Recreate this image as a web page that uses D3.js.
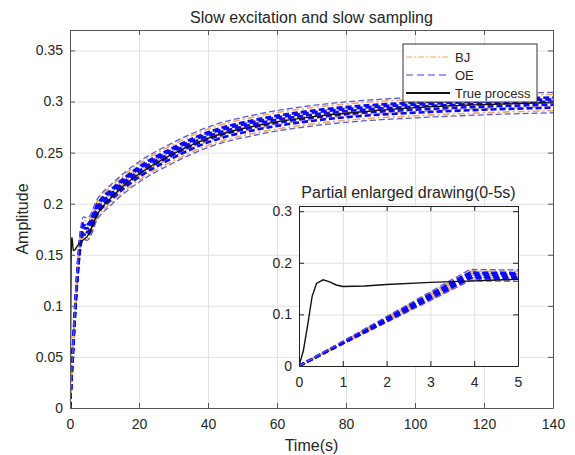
<!DOCTYPE html>
<html>
<head>
<meta charset="utf-8">
<script src="https://cdn.jsdelivr.net/npm/d3@7"></script>
<style>
  body { margin: 0; background: #fff; }
  svg text { font-family: "Liberation Sans", Arial, sans-serif; fill: #262626; }
</style>
</head>
<body>
<div class="chart-container"></div>
<script>
// tick labels
const xTicks = [0, 20, 40, 60, 80, 100, 120, 140];
const yTicks = [0, 0.05, 0.1, 0.15, 0.2, 0.25, 0.3, 0.35];
const insetXTicks = [0, 1, 2, 3, 4, 5];
const insetYTicks = [0, 0.1, 0.2, 0.3];

// sample instants of the identified models
const tSample = [0, 3.9, 5, 8, 12, 16, 20, 30, 40, 55, 70, 85, 100, 120, 140];

// BJ runs
const bj1 = [0, .167, .166, .187, .201, .213, .223, .242, .257, .270, .278, .283, .286, .289, .291];
const bj2 = [0, .171, .171, .191, .205, .217, .227, .246, .261, .274, .282, .287, .290, .293, .295];
const bj3 = [0, .176, .174, .195, .209, .221, .231, .250, .265, .278, .286, .291, .294, .297, .299];
const bj4 = [0, .180, .179, .199, .213, .225, .235, .254, .269, .282, .290, .295, .298, .301, .303];
const bj5 = [0, .184, .183, .203, .217, .229, .239, .258, .273, .286, .294, .299, .302, .305, .307];

// OE runs
const oe1 = [0, .165, .164, .185, .199, .211, .221, .240, .255, .268, .276, .281, .284, .287, .289];
const oe2 = [0, .170, .169, .190, .204, .216, .226, .245, .260, .273, .281, .286, .289, .292, .294];
const oe3 = [0, .173, .172, .193, .207, .219, .229, .248, .263, .276, .284, .289, .292, .295, .297];
const oe4 = [0, .176, .176, .196, .210, .222, .232, .251, .266, .279, .287, .292, .295, .298, .300];
const oe5 = [0, .179, .178, .198, .212, .224, .234, .253, .268, .281, .289, .294, .297, .300, .302];
const oe6 = [0, .181, .180, .200, .214, .226, .236, .255, .270, .283, .291, .296, .299, .302, .304];
const oe7 = [0, .187, .186, .205, .219, .231, .241, .260, .275, .288, .296, .301, .304, .307, .309];

// true process
const tTrue = [0, 0.1, 0.2, 0.25, 0.3, 0.4, 0.55, 0.7, 0.85, 1, 1.5, 2, 3, 4, 5, 8, 12, 16, 20, 30, 40, 55, 70, 85, 100, 120, 140];
const yTrue = [0, 0.03, 0.08, 0.108, 0.135, 0.16, 0.167, 0.163, 0.157, 0.154, 0.155, 0.158, 0.162, 0.165, 0.168, 0.19, 0.206, 0.219, 0.229, 0.249, 0.264, 0.277, 0.285, 0.290, 0.294, 0.297, 0.299];

const bjRuns = [bj1, bj2, bj3, bj4, bj5];
const oeRuns = [oe1, oe2, oe3, oe4, oe5, oe6, oe7];
const truePts = tTrue.map((t, i) => [t, yTrue[i]]);

const w = 575;
const h = 455;

const svg = d3
  .select(".chart-container")
  .append("svg")
  .attr("width", w)
  .attr("height", h);

// main axes box
const m = { left: 70, right: 553, top: 30, bottom: 408 };

const xScale = d3.scaleLinear().domain([0, 140]).range([m.left, m.right]);
const yScale = d3.scaleLinear().domain([0, 0.37]).range([m.bottom, m.top]);

const fmt = (d) => String(+d.toFixed(2));

// grid
svg
  .append("g")
  .attr("class", "grid")
  .attr("transform", "translate(0," + m.bottom + ")")
  .call(d3.axisBottom(xScale).tickValues(xTicks).tickSize(-(m.bottom - m.top)).tickFormat(""));
svg
  .append("g")
  .attr("class", "grid")
  .attr("transform", "translate(" + m.left + ",0)")
  .call(d3.axisLeft(yScale).tickValues(yTicks).tickSize(-(m.right - m.left)).tickFormat(""));
svg.selectAll(".grid .domain").remove();
svg.selectAll(".grid line").attr("stroke", "#e2e2e2").attr("stroke-width", 1);

// lines
function drawRuns(g, x, y, curve) {
  const line = d3
    .line()
    .x((d) => x(d[0]))
    .y((d) => y(d[1]))
    .curve(curve);

  bjRuns.forEach((r) => {
    g.append("path")
      .datum(tSample.map((t, i) => [t, r[i]]))
      .attr("fill", "none")
      .attr("stroke", "#eda95a")
      .attr("stroke-width", 1.6)
      .attr("stroke-dasharray", "7,3,2,3")
      .attr("d", line);
  });

  oeRuns.forEach((r, k) => {
    const outer = k === 0 || k === oeRuns.length - 1;
    g.append("path")
      .datum(tSample.map((t, i) => [t, r[i]]))
      .attr("fill", "none")
      .attr("stroke", outer ? "#5a5ad8" : "#0a0af5")
      .attr("stroke-width", outer ? 1.3 : 2.6)
      .attr("stroke-dasharray", "6,3")
      .attr("d", line);
  });

  g.append("path")
    .datum(truePts)
    .attr("fill", "none")
    .attr("stroke", "#111")
    .attr("stroke-width", 1.4)
    .attr("d", line);
}

svg
  .append("clipPath")
  .attr("id", "clipMain")
  .append("rect")
  .attr("x", m.left)
  .attr("y", m.top)
  .attr("width", m.right - m.left)
  .attr("height", m.bottom - m.top);

drawRuns(svg.append("g").attr("clip-path", "url(#clipMain)"), xScale, yScale, d3.curveMonotoneX);

// axes with inward ticks on all four sides
function boxAxes(g, x, y, b, xt, yt, color) {
  g.append("g")
    .attr("transform", "translate(0," + b.bottom + ")")
    .call(d3.axisBottom(x).tickValues(xt).tickSizeInner(-5).tickSizeOuter(0).tickPadding(11).tickFormat(fmt));
  g.append("g")
    .attr("transform", "translate(" + b.left + ",0)")
    .call(d3.axisLeft(y).tickValues(yt).tickSizeInner(-5).tickSizeOuter(0).tickPadding(7).tickFormat(fmt));
  g.append("g")
    .attr("transform", "translate(0," + b.top + ")")
    .call(d3.axisTop(x).tickValues(xt).tickSizeInner(-5).tickSizeOuter(0).tickFormat(""));
  g.append("g")
    .attr("transform", "translate(" + b.right + ",0)")
    .call(d3.axisRight(y).tickValues(yt).tickSizeInner(-5).tickSizeOuter(0).tickFormat(""));
  g.selectAll(".domain").attr("stroke", color);
  g.selectAll(".tick line").attr("stroke", color);
  g.selectAll("text")
    .attr("font-size", 14)
    .attr("font-family", "Liberation Sans, Arial, sans-serif")
    .attr("fill", "#262626");
}

boxAxes(svg.append("g"), xScale, yScale, m, xTicks, yTicks, "#555");

// titles and labels
svg
  .append("text")
  .attr("x", (m.left + m.right) / 2)
  .attr("y", 23)
  .attr("text-anchor", "middle")
  .attr("font-size", 16)
  .text("Slow excitation and slow sampling");

svg
  .append("text")
  .attr("x", (m.left + m.right) / 2)
  .attr("y", 451)
  .attr("text-anchor", "middle")
  .attr("font-size", 16)
  .text("Time(s)");

svg
  .append("text")
  .attr("transform", "translate(28," + (m.top + m.bottom) / 2 + ") rotate(-90)")
  .attr("text-anchor", "middle")
  .attr("font-size", 16)
  .text("Amplitude");

// legend
const lg = svg.append("g").attr("transform", "translate(403,44)");
lg.append("rect")
  .attr("width", 134)
  .attr("height", 58)
  .attr("fill", "#fff")
  .attr("stroke", "#333")
  .attr("stroke-width", 1);

const legendItems = [
  { name: "BJ", stroke: "#eda95a", width: 1.2, dash: "6,2,2,2" },
  { name: "OE", stroke: "#4040c8", width: 1.2, dash: "7,4" },
  { name: "True process", stroke: "#111", width: 2, dash: null },
];

legendItems.forEach((d, i) => {
  const yy = 13 + i * 18;
  lg.append("line")
    .attr("x1", 3)
    .attr("x2", 47)
    .attr("y1", yy)
    .attr("y2", yy)
    .attr("stroke", d.stroke)
    .attr("stroke-width", d.width)
    .attr("stroke-dasharray", d.dash);
  lg.append("text")
    .attr("x", 52)
    .attr("y", yy + 5)
    .attr("font-size", 13)
    .text(d.name);
});

// inset
const ins = { left: 299, right: 518, top: 206, bottom: 366 };
const xIn = d3.scaleLinear().domain([0, 5]).range([ins.left, ins.right]);
const yIn = d3.scaleLinear().domain([0, 0.31]).range([ins.bottom, ins.top]);

const gi = svg.append("g");
gi.append("rect")
  .attr("x", ins.left)
  .attr("y", ins.top)
  .attr("width", ins.right - ins.left)
  .attr("height", ins.bottom - ins.top)
  .attr("fill", "#fff");

gi.append("g")
  .attr("class", "igrid")
  .attr("transform", "translate(0," + ins.bottom + ")")
  .call(d3.axisBottom(xIn).tickValues(insetXTicks).tickSize(-(ins.bottom - ins.top)).tickFormat(""));
gi.append("g")
  .attr("class", "igrid")
  .attr("transform", "translate(" + ins.left + ",0)")
  .call(d3.axisLeft(yIn).tickValues(insetYTicks).tickSize(-(ins.right - ins.left)).tickFormat(""));
gi.selectAll(".igrid .domain").remove();
gi.selectAll(".igrid line").attr("stroke", "#e2e2e2");

svg
  .append("clipPath")
  .attr("id", "clipInset")
  .append("rect")
  .attr("x", ins.left)
  .attr("y", ins.top)
  .attr("width", ins.right - ins.left)
  .attr("height", ins.bottom - ins.top);

drawRuns(gi.append("g").attr("clip-path", "url(#clipInset)"), xIn, yIn, d3.curveLinear);

boxAxes(gi.append("g"), xIn, yIn, ins, insetXTicks, insetYTicks, "#222");

gi.append("text")
  .attr("x", (ins.left + ins.right) / 2)
  .attr("y", 198)
  .attr("text-anchor", "middle")
  .attr("font-size", 16)
  .text("Partial enlarged drawing(0-5s)");
</script>
</body>
</html>
